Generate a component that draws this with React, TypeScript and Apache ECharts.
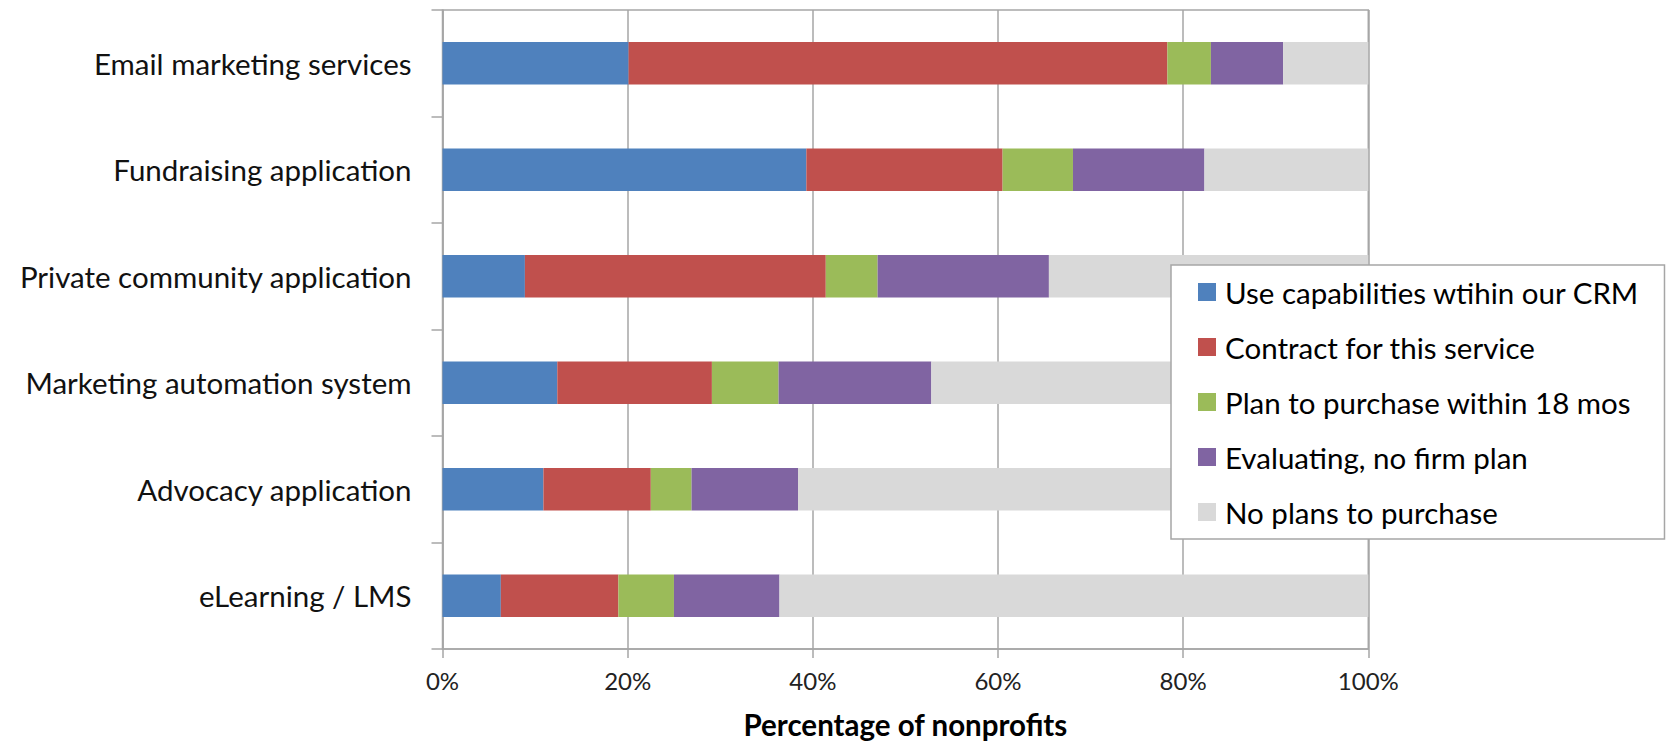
import React, { useEffect, useRef } from "react";
import * as echarts from "echarts";

const categories = [
  "Email marketing services",
  "Fundraising application",
  "Private community application",
  "Marketing automation system",
  "Advocacy application",
  "eLearning / LMS",
];

const seriesNames = [
  "Use capabilities wtihin our CRM",
  "Contract for this service",
  "Plan to purchase within 18 mos",
  "Evaluating, no firm plan",
  "No plans to purchase",
];

const useCrm = [20.1, 39.3, 8.9, 12.4, 10.9, 6.3];
const contract = [58.2, 21.2, 32.5, 16.7, 11.6, 12.7];
const planToPurchase = [4.7, 7.6, 5.6, 7.2, 4.4, 6.0];
const evaluating = [7.8, 14.2, 18.5, 16.5, 11.5, 11.4];
const noPlans = [9.2, 17.7, 34.5, 47.2, 61.6, 63.6];

const seriesColors = ["#4F81BD", "#C0504D", "#9BBB59", "#8064A2", "#D9D9D9"];

const xTicks = [0, 20, 40, 60, 80, 100];

const FONT = "Lato";

export default function App() {
  const ref = useRef<HTMLDivElement>(null);

  useEffect(() => {
    if (!ref.current) return;
    const chart = echarts.init(ref.current, undefined, { renderer: "svg" });
    const values = [useCrm, contract, planToPurchase, evaluating, noPlans];
    const axisGrey = "#a6a6a6";

    chart.setOption({
      animation: false,
      backgroundColor: "#ffffff",
      textStyle: { fontFamily: FONT },
      grid: {
        left: 442.5,
        right: 298.7,
        top: 10,
        bottom: 92,
        outerBoundsMode: "none",
        containLabel: false,
        show: true,
        borderColor: axisGrey,
        borderWidth: 1.5,
      },
      legend: {
        orient: "vertical",
        left: 1171,
        top: 265,
        padding: [12, 25, 12, 27],
        itemWidth: 18,
        itemHeight: 18,
        itemGap: 25,
        icon: "rect",
        backgroundColor: "#ffffff",
        borderColor: axisGrey,
        borderWidth: 1.5,
        borderRadius: 0,
        selectedMode: false,
        textStyle: {
          fontFamily: FONT,
          fontSize: 29.5,
          color: "#000000",
          lineHeight: 30,
          padding: [0, 0, 0, 4],
        },
        data: seriesNames,
      },
      xAxis: {
        type: "value",
        min: xTicks[0],
        max: xTicks[xTicks.length - 1],
        interval: 20,
        name: "Percentage of nonprofits",
        nameLocation: "middle",
        nameGap: 60,
        nameTextStyle: {
          fontFamily: FONT,
          fontSize: 29.5,
          fontWeight: "bold",
          color: "#000000",
        },
        axisLine: { show: true, lineStyle: { color: axisGrey, width: 1.5 } },
        axisTick: { show: true, length: 9, lineStyle: { color: axisGrey, width: 1.5 } },
        splitLine: { show: true, lineStyle: { color: axisGrey, width: 1.5 } },
        axisLabel: {
          formatter: "{value}%",
          fontFamily: FONT,
          fontSize: 24,
          color: "#222222",
          margin: 19,
        },
      },
      yAxis: {
        type: "category",
        inverse: true,
        data: categories,
        axisLine: { show: true, lineStyle: { color: axisGrey, width: 1.5 } },
        axisTick: { show: true, length: 11, lineStyle: { color: axisGrey, width: 1.5 } },
        splitLine: { show: false },
        axisLabel: {
          fontFamily: FONT,
          fontSize: 29.5,
          color: "#111111",
          margin: 31,
        },
      },
      series: seriesNames.map((name, i) => ({
        name,
        type: "bar",
        stack: "total",
        data: values[i],
        barCategoryGap: "60%",
        itemStyle: { color: seriesColors[i] },
      })),
    });

    return () => chart.dispose();
  }, []);

  return (
    <div
      ref={ref}
      style={{ position: "absolute", left: 0, top: 0, width: 1667, height: 741 }}
    />
  );
}
